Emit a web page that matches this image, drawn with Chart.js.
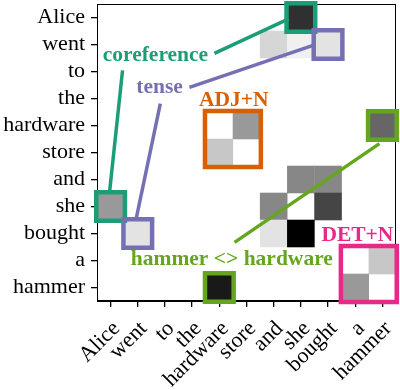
<!DOCTYPE html>
<html>
<head>
<meta charset="utf-8">
<script src="https://cdn.jsdelivr.net/npm/chart.js@4"></script>
<style>
  html, body { margin: 0; padding: 0; background: #fff; }
  #wrap { width: 400px; height: 390px; }
</style>
</head>
<body>
<div id="wrap"><canvas id="chart" width="400" height="390"></canvas></div>
<script>
// ---------------------------------------------------------------------------
// data
// ---------------------------------------------------------------------------
const words = ['Alice', 'went', 'to', 'the', 'hardware', 'store', 'and', 'she', 'bought', 'a', 'hammer'];

// non-zero attention cells (row = query word, col = key word)
const cellRows =    [0,    1,    1,    1,    4,   5,    4,   6,    6,    7,   7,    7,    8,    8,    8,   9,    10,  10];
const cellCols =    [7,    6,    7,    8,    5,   4,    10,  7,    8,    0,   6,    8,    1,    6,    7,   10,   9,   4];
const cellWeights = [0.81, 0.16, 0.06, 0.11, 0.4, 0.22, 0.6, 0.47, 0.47, 0.4, 0.47, 0.73, 0.11, 0.11, 1.0, 0.22, 0.4, 0.9];

// highlighted cells / blocks
const boxRows =   [0, 7, 1, 8, 4.5, 4, 10, 9.5];
const boxCols =   [7, 0, 8, 1, 4.5, 10, 4, 9.5];
const boxSpans =  [1, 1, 1, 1, 2, 1, 1, 2];
const boxGroups = ['coreference', 'coreference', 'tense', 'tense', 'ADJ+N', 'hammer <> hardware', 'hammer <> hardware', 'DET+N'];

// annotation labels and leader lines (in cell units)
const labelNames = ['coreference', 'tense', 'ADJ+N', 'hammer <> hardware', 'DET+N'];
const labelX = [1.65, 1.8, 4.53, 4.46, 9.08];
const labelY = [1.41, 2.59, 3.07, 8.96, 8.07];

const leaderGroups = ['coreference', 'coreference', 'tense', 'tense', 'hammer <> hardware'];
const leaderFrom = [[3.82, 1.33], [0.44, 1.96], [2.9, 2.59], [1.83, 3.19], [4.56, 8.33]];
const leaderTo =   [[6.55, 0.05], [-0.04, 6.48], [7.42, 1.04], [0.95, 7.41], [9.89, 4.67]];

const groupColors = {
  'coreference': '#1b9e77',
  'tense': '#7570b3',
  'ADJ+N': '#d95f02',
  'hammer <> hardware': '#66a61e',
  'DET+N': '#e7298a'
};

const SERIF = '"Liberation Serif", "DejaVu Serif", serif';

// ---------------------------------------------------------------------------
// helpers
// ---------------------------------------------------------------------------
function cellSize(chart) {
  const s = chart.scales.x;
  return Math.abs(s.getPixelForValue(1) - s.getPixelForValue(0));
}

function grey(w) {
  const g = Math.round(255 * (1 - w));
  return `rgb(${g},${g},${g})`;
}

const heatData = cellRows.map((r, i) => ({ x: cellCols[i], y: r }));
const boxData = boxRows.map((r, i) => ({ x: boxCols[i], y: r }));

const leaderSets = leaderFrom.map((p, i) => ({
  data: [{ x: p[0], y: p[1] }, { x: leaderTo[i][0], y: leaderTo[i][1] }],
  showLine: true,
  borderColor: groupColors[leaderGroups[i]],
  borderWidth: 3.5,
  borderCapStyle: 'butt',
  pointRadius: 0,
  clip: false,
  order: 2
}));

// frame on top/right + annotation text
const framePlugin = {
  id: 'frame',
  beforeDatasetsDraw(chart) {
    const { ctx, chartArea: a } = chart;
    ctx.save();
    ctx.strokeStyle = '#000';
    ctx.lineWidth = 1;
    ctx.strokeRect(a.left + 0.5, a.top + 0.5, a.right - a.left - 1, a.bottom - a.top - 1);
    ctx.restore();
  },
  afterDatasetsDraw(chart) {
    const { ctx, scales } = chart;
    ctx.save();
    ctx.font = 'bold 21.5px ' + SERIF;
    ctx.textAlign = 'center';
    ctx.textBaseline = 'middle';
    labelNames.forEach((name, i) => {
      ctx.fillStyle = groupColors[name];
      ctx.fillText(name, scales.x.getPixelForValue(labelX[i]), scales.y.getPixelForValue(labelY[i]));
    });
    ctx.restore();
  }
};

const tickSetup = (scale) => {
  scale.ticks = words.map((w, i) => ({ value: i }));
};

new Chart(document.getElementById('chart'), {
  type: 'scatter',
  data: {
    datasets: [
      {
        data: heatData,
        pointStyle: 'rect',
        backgroundColor: cellWeights.map(grey),
        borderWidth: 0,
        pointRadius: (c) => cellSize(c.chart) / Math.SQRT2 + 0.3,
        order: 3
      },
      ...leaderSets,
      {
        data: boxData,
        pointStyle: 'rect',
        backgroundColor: 'rgba(0,0,0,0)',
        borderColor: boxGroups.map(g => groupColors[g]),
        borderWidth: 4.5,
        pointRadius: (c) => (cellSize(c.chart) * boxSpans[c.dataIndex] + 1.5) / Math.SQRT2,
        clip: false,
        order: 1
      }
    ]
  },
  options: {
    responsive: false,
    devicePixelRatio: 1,
    animation: false,
    events: [],
    layout: { padding: { top: 4, right: 4, left: 0, bottom: 0 } },
    plugins: { legend: { display: false }, tooltip: { enabled: false } },
    scales: {
      x: {
        type: 'linear',
        min: -0.5,
        max: 10.5,
        afterBuildTicks: tickSetup,
        afterFit: (s) => { s.height = 89; s.paddingLeft = 0; s.paddingRight = 0; },
        grid: { drawOnChartArea: false, drawTicks: true, tickLength: 6, tickColor: '#000', lineWidth: 1.3 },
        border: { display: true, color: '#000', width: 1 },
        ticks: {
          autoSkip: false,
          minRotation: 45,
          maxRotation: 45,
          padding: 9,
          labelOffset: 6,
          color: '#000',
          font: { family: SERIF, size: 22 },
          callback: (v) => words[v]
        }
      },
      y: {
        type: 'linear',
        reverse: true,
        min: -0.5,
        max: 10.5,
        afterBuildTicks: tickSetup,
        afterFit: (s) => { s.width = 97; s.paddingTop = 0; s.paddingBottom = 0; },
        grid: { drawOnChartArea: false, drawTicks: true, tickLength: 6, tickColor: '#000', lineWidth: 1.3 },
        border: { display: true, color: '#000', width: 1 },
        ticks: {
          autoSkip: false,
          padding: 6,
          color: '#000',
          font: { family: SERIF, size: 22 },
          callback: (v) => words[v]
        }
      }
    }
  },
  plugins: [framePlugin]
});
</script>
</body>
</html>
